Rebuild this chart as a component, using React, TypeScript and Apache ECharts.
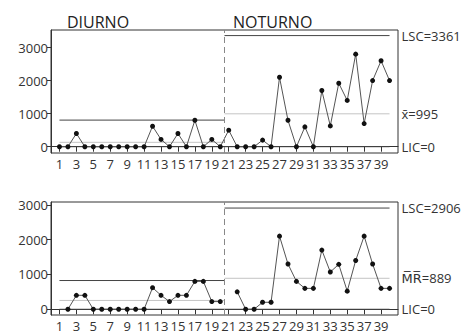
import { useEffect, useRef } from "react";
import * as echarts from "echarts";

const observations = Array.from({ length: 40 }, (_, i) => i + 1);
const individualValues = [
  0, 0, 400, 0, 0, 0, 0, 0, 0, 0, 0, 620, 220, 0, 400, 0, 800, 0, 220, 0,
  500, 0, 0, 0, 200, 0, 2100, 800, 0, 600, 0, 1700, 630, 1920, 1400, 2800, 700, 2000, 2600, 2000,
];
const movingRanges: (number | null)[] = [
  null, 0, 400, 400, 0, 0, 0, 0, 0, 0, 0, 620, 400, 220, 400, 400, 800, 800, 220, 220,
  null, 500, 0, 0, 200, 200, 2100, 1300, 800, 600, 600, 1700, 1070, 1290, 520, 1400, 2100, 1300, 600, 600,
];
const stageNames = ["DIURNO", "NOTURNO"];
const stageFrom = [1, 20.5];
const stageTo = [20.5, 40];
const xCenter = [133, 995];
const xUCL = [805, 3361];
const xLCL = [0, 0];
const mrCenter = [253, 889];
const mrUCL = [825, 2906];
const mrLCL = [0, 0];
const xTickLabels = [1, 3, 5, 7, 9, 11, 13, 15, 17, 19, 21, 23, 25, 27, 29, 31, 33, 35, 37, 39];
const yTickLabels = [0, 1000, 2000, 3000];

const FONT = "'Open Sans', 'DejaVu Sans', sans-serif";

export default function App() {
  const ref = useRef<HTMLDivElement>(null);
  useEffect(() => {
    document.body.style.margin = "0";
    const chart = echarts.init(ref.current!, null, { renderer: "svg" });

    const limitSeries = (gi: number, value: number, x0: number, x1: number, color: string, label?: string) => ({
      type: "line",
      xAxisIndex: gi,
      yAxisIndex: gi,
      data: [[x0, value], [x1, value]],
      symbol: "none",
      silent: true,
      z: 1,
      lineStyle: { color, width: 1 },
      endLabel: label
        ? { show: true, formatter: label, color: "#333", fontSize: 13, fontFamily: FONT, distance: 12 }
        : { show: false },
    });

    const series: any[] = [];
    const charts = [
      { c: xCenter, u: xUCL, l: xLCL, labels: ["x\u0304=" + xCenter[1], "LSC=" + xUCL[1], "LIC=" + xLCL[1]] },
      { c: mrCenter, u: mrUCL, l: mrLCL, labels: ["M\u0305R\u0305=" + mrCenter[1], "LSC=" + mrUCL[1], "LIC=" + mrLCL[1]] },
    ];
    charts.forEach((ch, gi) => {
      stageNames.forEach((_, s) => {
        const last = s === stageNames.length - 1;
        series.push(limitSeries(gi, ch.c[s], stageFrom[s], stageTo[s], "#c4c4c4", last ? ch.labels[0] : undefined));
        series.push(limitSeries(gi, ch.u[s], stageFrom[s], stageTo[s], "#444", last ? ch.labels[1] : undefined));
        series.push(limitSeries(gi, ch.l[s], stageFrom[s], stageTo[s], "#444", last ? ch.labels[2] : undefined));
      });
    });

    const dataSeries = (gi: number, values: (number | null)[]) => ({
      type: "line",
      xAxisIndex: gi,
      yAxisIndex: gi,
      data: observations.map((o, i) => [o, values[i]]),
      connectNulls: false,
      symbol: "circle",
      symbolSize: 5,
      z: 3,
      itemStyle: { color: "#111" },
      lineStyle: { color: "#555", width: 1 },
      markLine: {
        silent: true,
        symbol: "none",
        label: { show: false },
        lineStyle: { color: "#888", width: 1, type: [6, 4] },
        data: [{ xAxis: stageTo[0] }],
      },
    });
    series.push(dataSeries(0, individualValues));
    series.push(dataSeries(1, movingRanges));

    const xAxis = (gi: number) => ({
      type: "value",
      gridIndex: gi,
      min: 0,
      max: 41,
      splitLine: { show: false },
      axisLine: { show: true, lineStyle: { color: "#333" } },
      axisTick: { show: true, customValues: xTickLabels, length: 5, lineStyle: { color: "#333" } },
      axisLabel: { customValues: xTickLabels, color: "#333", fontSize: 13, fontFamily: FONT, margin: 4 },
    });
    const yAxis = (gi: number, min: number, max: number) => ({
      type: "value",
      gridIndex: gi,
      min,
      max,
      splitLine: { show: false },
      axisLine: { show: true, lineStyle: { color: "#333" } },
      axisTick: { show: true, customValues: yTickLabels, length: 4, lineStyle: { color: "#333" } },
      axisLabel: {
        customValues: yTickLabels,
        formatter: (v: number) => String(v),
        color: "#333",
        fontSize: 13,
        fontFamily: FONT,
        margin: 3,
      },
    });

    chart.setOption({
      animation: false,
      backgroundColor: "#fff",
      textStyle: { fontFamily: FONT },
      title: [
        { text: stageNames[0], left: 62, top: 9, textStyle: { fontSize: 16, fontWeight: "normal", color: "#222", fontFamily: FONT } },
        { text: stageNames[1], left: 228, top: 9, textStyle: { fontSize: 16, fontWeight: "normal", color: "#222", fontFamily: FONT } },
      ],
      grid: [
        { left: 51, top: 30, width: 347, height: 123, show: true, borderColor: "#333", borderWidth: 1 },
        { left: 51, top: 202, width: 347, height: 113, show: true, borderColor: "#333", borderWidth: 1 },
      ],
      xAxis: [xAxis(0), xAxis(1)],
      yAxis: [yAxis(0, -190, 3530), yAxis(1, -165, 3080)],
      series,
    });
    return () => chart.dispose();
  }, []);
  return <div ref={ref} style={{ width: 472, height: 334 }} />;
}
